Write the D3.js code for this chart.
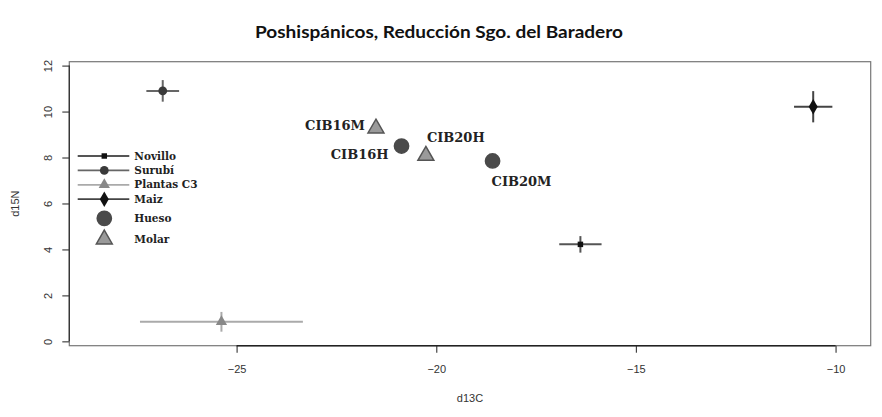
<!DOCTYPE html>
<html>
<head>
<meta charset="utf-8">
<script src="https://cdn.jsdelivr.net/npm/d3@7"></script>
<style>
  body { margin: 0; background: #fff; }
  svg { display: block; }
</style>
</head>
<body>
<svg id="chart" width="882" height="417"></svg>
<script>
// food sources (mean +- sd)
const sources = ["Novillo", "Surubí", "Plantas C3", "Maiz"];
const sourceC = [-16.39, -26.85, -25.38, -10.56];
const sourceN = [4.22, 10.90, 0.85, 10.21];
const sourceCsd = [0.53, 0.41, 2.04, 0.48];
const sourceNsd = [0.36, 0.47, 0.43, 0.68];

// human samples
const samples = ["CIB16M", "CIB16H", "CIB20H", "CIB20M"];
const sampleTissue = ["Molar", "Hueso", "Molar", "Hueso"];
const sampleC = [-21.51, -20.87, -20.26, -18.59];
const sampleN = [9.27, 8.50, 8.08, 7.85];

const tissues = ["Hueso", "Molar"];
const xTicks = [-25, -20, -15, -10];
const yTicks = [0, 2, 4, 6, 8, 10, 12];

// styles
const srcStyle = {
  "Novillo":    {shape: d3.symbolSquare,  size: 30, fill: "#111", line: "#555"},
  "Surubí":     {shape: d3.symbolCircle,  size: 60, fill: "#3a3a3a", line: "#666"},
  "Plantas C3": {shape: d3.symbolTriangle, size: 55, fill: "#888", line: "#aaa"},
  "Maiz":       {shape: d3.symbolDiamond, size: 70, fill: "#111", line: "#444"}
};
const tissueStyle = {
  "Hueso": {shape: d3.symbolCircle, size: 160, fill: "#4a4a4a", stroke: "#4a4a4a"},
  "Molar": {shape: d3.symbolTriangle, size: 110, fill: "#9a9a9a", stroke: "#555"}
};
// label offsets [dx, dy, anchor]
const labelPos = {
  "CIB16M": [-11, -3, "end"],
  "CIB16H": [-13, 8, "end"],
  "CIB20H": [1, -18, "start"],
  "CIB20M": [-1, 20, "start"]
};

const svg = d3.select("#chart");
const box = {left: 69.3, right: 870.7, top: 61.7, bottom: 345.7};

const x = d3.scaleLinear().domain([-29.19, -9.12]).range([box.left, box.right]);
const y = d3.scaleLinear().domain([-0.19, 12.17]).range([box.bottom, box.top]);

// title
svg.append("text")
  .attr("x", 439).attr("y", 38)
  .attr("text-anchor", "middle")
  .attr("font-family", "Lato, 'Open Sans', sans-serif")
  .attr("font-weight", "bold")
  .attr("font-size", 17)
  .attr("textLength", 368)
  .attr("lengthAdjust", "spacingAndGlyphs")
  .attr("fill", "#111")
  .text("Poshispánicos, Reducción Sgo. del Baradero");

// box
svg.append("rect")
  .attr("x", box.left).attr("y", box.top)
  .attr("width", box.right - box.left).attr("height", box.bottom - box.top)
  .attr("fill", "none").attr("stroke", "#777").attr("stroke-width", 1.2);

// axes (R style: axis line only between first and last tick)
const xAxis = svg.append("g")
  .attr("transform", `translate(0,${box.bottom})`)
  .call(d3.axisBottom(x).tickValues(xTicks).tickSizeInner(7).tickSizeOuter(0).tickPadding(13).tickFormat(d3.format("d")));
const yAxis = svg.append("g")
  .attr("transform", `translate(${box.left},0)`)
  .call(d3.axisLeft(y).tickValues(yTicks).tickSizeInner(7).tickSizeOuter(0).tickPadding(8).tickFormat(d3.format("d")));

xAxis.select(".domain").remove();
yAxis.select(".domain").remove();
xAxis.append("line")
  .attr("x1", x(xTicks[0])).attr("x2", x(xTicks[xTicks.length - 1]))
  .attr("stroke", "#222").attr("stroke-width", 1.4);
yAxis.append("line")
  .attr("y1", y(yTicks[0])).attr("y2", y(yTicks[yTicks.length - 1]))
  .attr("stroke", "#333").attr("stroke-width", 1.3);

[xAxis, yAxis].forEach(function(g){
  g.selectAll(".tick line").attr("stroke", "#444").attr("stroke-width", 1.2);
  g.selectAll(".tick text")
    .attr("font-family", "'Liberation Sans', Arial, sans-serif")
    .attr("font-size", 11)
    .attr("fill", "#333");
});
yAxis.selectAll(".tick text")
  .attr("text-anchor", "middle")
  .attr("dy", "0")
  .attr("x", -17)
  .attr("transform", "rotate(-90,-17,0)");

// axis titles
svg.append("text")
  .attr("x", (box.left + box.right) / 2).attr("y", 402)
  .attr("text-anchor", "middle")
  .attr("font-family", "'Liberation Sans', Arial, sans-serif")
  .attr("font-size", 11).attr("fill", "#333")
  .text("d13C");
svg.append("text")
  .attr("transform", `translate(19,${(box.top + box.bottom) / 2}) rotate(-90)`)
  .attr("text-anchor", "middle")
  .attr("font-family", "'Liberation Sans', Arial, sans-serif")
  .attr("font-size", 11).attr("fill", "#333")
  .text("d15N");

// source error bars + points
const srcData = sources.map(function(s, i){
  return {name: s, c: sourceC[i], n: sourceN[i], csd: sourceCsd[i], nsd: sourceNsd[i]};
});
const srcG = svg.append("g").selectAll("g").data(srcData).enter().append("g");
srcG.append("line")
  .attr("x1", d => x(d.c - d.csd)).attr("x2", d => x(d.c + d.csd))
  .attr("y1", d => y(d.n)).attr("y2", d => y(d.n))
  .attr("stroke", d => srcStyle[d.name].line).attr("stroke-width", 2);
srcG.append("line")
  .attr("x1", d => x(d.c)).attr("x2", d => x(d.c))
  .attr("y1", d => y(d.n - d.nsd)).attr("y2", d => y(d.n + d.nsd))
  .attr("stroke", d => srcStyle[d.name].line).attr("stroke-width", 2);
srcG.append("path")
  .attr("transform", d => `translate(${x(d.c)},${y(d.n)})`)
  .attr("d", d => d3.symbol().type(srcStyle[d.name].shape).size(srcStyle[d.name].size)())
  .attr("fill", d => srcStyle[d.name].fill);

// samples
const smpData = samples.map(function(s, i){
  return {name: s, tissue: sampleTissue[i], c: sampleC[i], n: sampleN[i]};
});
const smpG = svg.append("g").selectAll("g").data(smpData).enter().append("g");
smpG.append("path")
  .attr("transform", d => `translate(${x(d.c)},${y(d.n)})`)
  .attr("d", d => d3.symbol().type(tissueStyle[d.tissue].shape).size(tissueStyle[d.tissue].size)())
  .attr("fill", d => tissueStyle[d.tissue].fill)
  .attr("stroke", d => tissueStyle[d.tissue].stroke)
  .attr("stroke-width", 1.5);
smpG.append("text")
  .attr("x", d => x(d.c) + labelPos[d.name][0])
  .attr("y", d => y(d.n) + labelPos[d.name][1])
  .attr("dy", "0.35em")
  .attr("text-anchor", d => labelPos[d.name][2])
  .attr("font-family", "'DejaVu Serif', serif")
  .attr("font-weight", "bold")
  .attr("font-size", 13)
  .attr("fill", "#222")
  .text(d => d.name);

// legend
const legend = svg.append("g").attr("transform", "translate(77.7,156)");
const legendRows = sources.map((s, i) => ({label: s, kind: "src", dy: i * 14.4}))
  .concat(tissues.map((t, i) => ({label: t, kind: "tissue", dy: 62.3 + i * 21})));
const lg = legend.selectAll("g").data(legendRows).enter().append("g")
  .attr("transform", d => `translate(0,${d.dy})`);
lg.filter(d => d.kind === "src").append("line")
  .attr("x1", 0).attr("x2", 51.6).attr("y1", 0).attr("y2", 0)
  .attr("stroke", d => srcStyle[d.label].line).attr("stroke-width", 1.8);
lg.append("path")
  .attr("transform", "translate(26.6,0)")
  .attr("d", function(d){
    const st = d.kind === "src" ? srcStyle[d.label] : tissueStyle[d.label];
    return d3.symbol().type(st.shape).size(st.size)();
  })
  .attr("fill", d => d.kind === "src" ? srcStyle[d.label].fill : tissueStyle[d.label].fill)
  .attr("stroke", d => d.kind === "src" ? "none" : tissueStyle[d.label].stroke)
  .attr("stroke-width", 1.5);
lg.append("text")
  .attr("x", 56.6).attr("dy", "0.35em")
  .attr("font-family", "'DejaVu Serif', serif")
  .attr("font-weight", "bold")
  .attr("font-size", 10.5)
  .attr("fill", "#222")
  .text(d => d.label);
</script>
</body>
</html>
